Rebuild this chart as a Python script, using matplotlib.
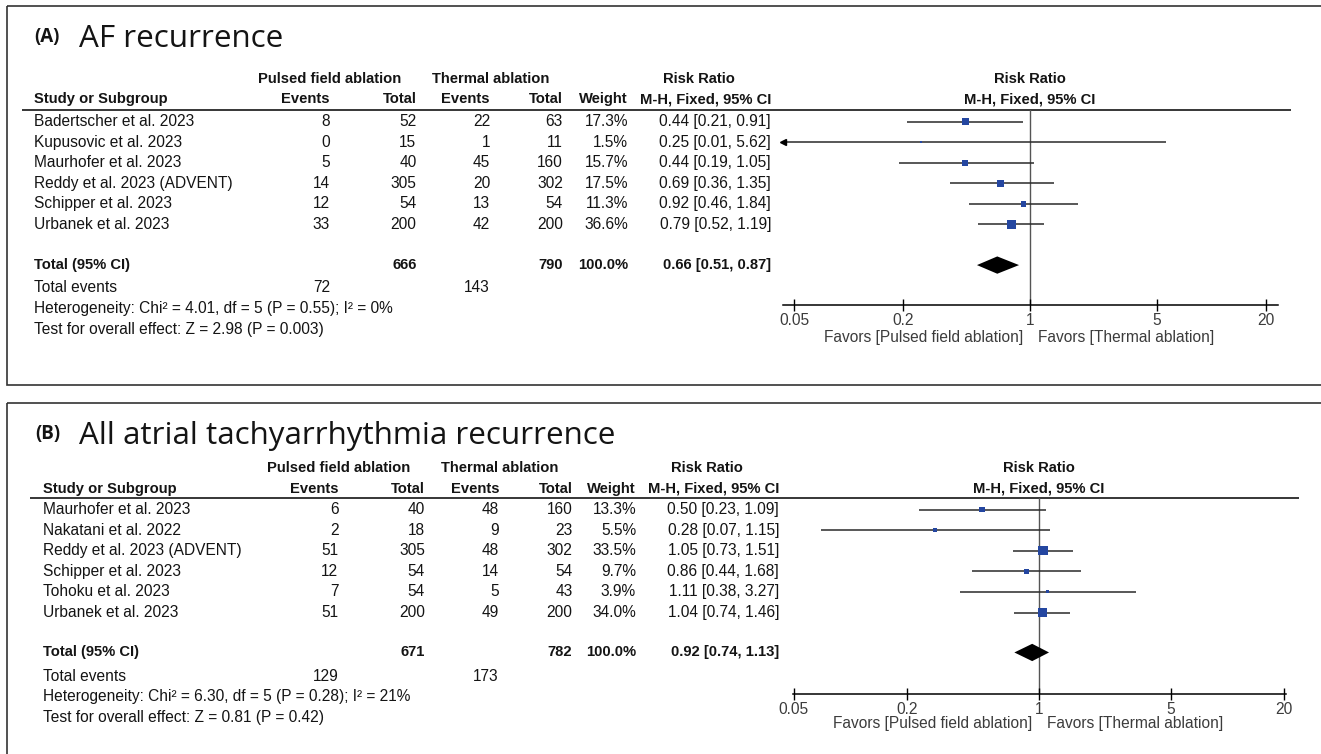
import numpy as np
import matplotlib
matplotlib.use("Agg")
import matplotlib.pyplot as plt
from matplotlib.patches import Rectangle
from matplotlib.ticker import NullLocator

# ---- data: (A) AF recurrence ----
studies_a = ["Badertscher et al. 2023", "Kupusovic et al. 2023", "Maurhofer et al. 2023",
             "Reddy et al. 2023 (ADVENT)", "Schipper et al. 2023", "Urbanek et al. 2023"]
pfa_events_a = [8, 0, 5, 14, 12, 33]
pfa_total_a = [52, 15, 40, 305, 54, 200]
th_events_a = [22, 1, 45, 20, 13, 42]
th_total_a = [63, 11, 160, 302, 54, 200]
weight_a = [17.3, 1.5, 15.7, 17.5, 11.3, 36.6]
rr_a = [0.44, 0.25, 0.44, 0.69, 0.92, 0.79]
ci_lo_a = [0.21, 0.01, 0.19, 0.36, 0.46, 0.52]
ci_hi_a = [0.91, 5.62, 1.05, 1.35, 1.84, 1.19]
total_a = [666, 790]
total_events_a = [72, 143]
pooled_a = [0.66, 0.51, 0.87]
het_a = "Heterogeneity: Chi\u00b2 = 4.01, df = 5 (P = 0.55); I\u00b2 = 0%"
test_a = "Test for overall effect: Z = 2.98 (P = 0.003)"

# ---- data: (B) All atrial tachyarrhythmia recurrence ----
studies_b = ["Maurhofer et al. 2023", "Nakatani et al. 2022", "Reddy et al. 2023 (ADVENT)",
             "Schipper et al. 2023", "Tohoku et al. 2023", "Urbanek et al. 2023"]
pfa_events_b = [6, 2, 51, 12, 7, 51]
pfa_total_b = [40, 18, 305, 54, 54, 200]
th_events_b = [48, 9, 48, 14, 5, 49]
th_total_b = [160, 23, 302, 54, 43, 200]
weight_b = [13.3, 5.5, 33.5, 9.7, 3.9, 34.0]
rr_b = [0.50, 0.28, 1.05, 0.86, 1.11, 1.04]
ci_lo_b = [0.23, 0.07, 0.73, 0.44, 0.38, 0.74]
ci_hi_b = [1.09, 1.15, 1.51, 1.68, 3.27, 1.46]
total_b = [671, 782]
total_events_b = [129, 173]
pooled_b = [0.92, 0.74, 1.13]
het_b = "Heterogeneity: Chi\u00b2 = 6.30, df = 5 (P = 0.28); I\u00b2 = 21%"
test_b = "Test for overall effect: Z = 0.81 (P = 0.42)"

ticks = [0.05, 0.2, 1, 5, 20]
tick_labels = ["0.05", "0.2", "1", "5", "20"]

W, H = 1321, 754
TXT = "#141414"
GREY = "#3c3c3c"
BLUE = "#2446a0"
TFONT = "Liberation Sans"
HFONT = "Open Sans"
FS = 11.2
FSB = 10.6

fig = plt.figure(figsize=(W / 100, H / 100), dpi=100)


def px_axes(x0, y0, x1, y1):
    # axes placed with pixel coords measured from the top-left corner
    return fig.add_axes([x0 / W, 1 - y1 / H, (x1 - x0) / W, (y1 - y0) / H])


# panel frames
bg = px_axes(0, 0, W, H)
bg.set_xlim(0, W)
bg.set_ylim(H, 0)
bg.axis("off")
bg.add_patch(Rectangle((7, 6), W, 379, fill=False, ec="#333333", lw=1.2))
bg.add_patch(Rectangle((7, 402.7), W, 400, fill=False, ec="#333333", lw=1.2))


def draw_panel(letter, title, studies, pe, pt, te, tt, weight, rr, lo, hi,
               tot, tot_ev, pooled, het, test, lay):
    r0, rs = lay["r0"], 20.6
    top, bottom = lay["top"], lay["bottom"]
    c = lay["cols"]
    rows = np.arange(len(studies))
    kw = dict(family=TFONT, fontsize=FS, color=TXT, va="center")
    bkw = dict(kw, fontweight="bold", fontsize=FSB)

    tab = px_axes(0, top, W, bottom)
    tab.set_xlim(0, W)
    tab.set_ylim((bottom - r0) / rs, (top - r0) / rs)
    tab.axis("off")

    # title
    tab.text(c["letter"], lay["letter_y"], letter, family=HFONT, fontsize=13.5,
             fontweight="bold", color=TXT, va="baseline")
    tab.text(c["title"], lay["title_y"], title, family=HFONT, fontsize=22.6,
             color=TXT, va="baseline")

    # headers
    h1, h2 = lay["h1"], lay["h2"]
    tab.text(c["g1"], h1, "Pulsed field ablation", ha="center", **bkw)
    tab.text(c["g2"], h1, "Thermal ablation", ha="center", **bkw)
    tab.text(c["rrh"], h1, "Risk Ratio", ha="center", **bkw)
    tab.text(c["name"], h2, "Study or Subgroup", ha="left", **bkw)
    tab.text(c["ev"], h2, "Events", ha="right", **bkw)
    tab.text(c["tot"], h2, "Total", ha="right", **bkw)
    tab.text(c["tev"], h2, "Events", ha="right", **bkw)
    tab.text(c["ttot"], h2, "Total", ha="right", **bkw)
    tab.text(c["w"], h2, "Weight", ha="right", **bkw)
    tab.text(c["rr"], h2, "M-H, Fixed, 95% CI", ha="right", **bkw)
    tab.hlines(lay["line"], lay["line_x"][0], lay["line_x"][1], color="k", lw=1.1)

    # study rows
    for i in rows:
        tab.text(c["name"], i, studies[i], ha="left", **kw)
        tab.text(c["ev"], i, str(pe[i]), ha="right", **kw)
        tab.text(c["tot"], i, str(pt[i]), ha="right", **kw)
        tab.text(c["tev"], i, str(te[i]), ha="right", **kw)
        tab.text(c["ttot"], i, str(tt[i]), ha="right", **kw)
        tab.text(c["w"], i, f"{weight[i]:.1f}%", ha="right", **kw)
        tab.text(c["rr"], i, f"{rr[i]:.2f} [{lo[i]:.2f}, {hi[i]:.2f}]", ha="right", **kw)

    T = lay["total"]
    tab.text(c["name"], T, "Total (95% CI)", ha="left", **bkw)
    tab.text(c["tot"], T, str(tot[0]), ha="right", **bkw)
    tab.text(c["ttot"], T, str(tot[1]), ha="right", **bkw)
    tab.text(c["w"], T, "100.0%", ha="right", **bkw)
    tab.text(c["rr"], T, f"{pooled[0]:.2f} [{pooled[1]:.2f}, {pooled[2]:.2f}]", ha="right", **bkw)
    tab.text(c["name"], lay["ev_row"], "Total events", ha="left", **kw)
    tab.text(c["ev"], lay["ev_row"], str(tot_ev[0]), ha="right", **kw)
    tab.text(c["tev"], lay["ev_row"], str(tot_ev[1]), ha="right", **kw)
    tab.text(c["name"], lay["het_row"], het, ha="left", **kw)
    tab.text(c["name"], lay["test_row"], test, ha="left", **kw)

    # forest plot
    line_px = r0 + rs * lay["line"]
    axis_px = r0 + rs * lay["axis"]
    fx = px_axes(lay["ax_x"][0], line_px, lay["ax_x"][1], axis_px)
    fx.set_xscale("log")
    fx.set_xlim(lay["lim"])
    fx.set_ylim(lay["axis"], lay["line"])
    fx.patch.set_alpha(0)
    for s in ["top", "left", "right"]:
        fx.spines[s].set_visible(False)
    fx.spines["bottom"].set_linewidth(1.1)
    fx.set_yticks([])
    fx.set_xticks(ticks)
    fx.set_xticklabels(tick_labels, family=TFONT, fontsize=FS, color=GREY)
    fx.xaxis.set_minor_locator(NullLocator())
    fx.tick_params(axis="x", direction="inout", length=9, width=1, pad=1.0)

    fx.axvline(1, color="#555555", lw=1.0, zorder=1)
    fx.hlines(rows, lo, hi, color="#2a2a2a", lw=1.1, zorder=2)
    xmin = fx.get_xlim()[0]
    for i in rows:
        if lo[i] < xmin:
            fx.plot(xmin, i, marker="<", ms=5, color="k", clip_on=False, zorder=3)
    sizes = (1.6 * np.sqrt(weight) * 0.72) ** 2
    fx.scatter(rr, rows, s=sizes, marker="s", color=BLUE, linewidths=0, zorder=4)
    fx.fill([pooled[1], pooled[0], pooled[2], pooled[0]],
            [T, T - 0.42, T, T + 0.42], color="k", zorder=4, lw=0)

    akw = dict(xycoords="data", textcoords="offset points", annotation_clip=False,
               family=TFONT, va="center")
    fx.annotate("Risk Ratio", xy=(1, h1), xytext=(0, 0), ha="center",
                fontweight="bold", fontsize=FSB, color=TXT, **akw)
    fx.annotate("M-H, Fixed, 95% CI", xy=(1, h2), xytext=(0, 0), ha="center",
                fontweight="bold", fontsize=FSB, color=TXT, **akw)
    fx.annotate("Favors [Pulsed field ablation]", xy=(1, lay["fav"]), xytext=(-5, 0),
                ha="right", fontsize=FS, color=GREY, **akw)
    fx.annotate("Favors [Thermal ablation]", xy=(1, lay["fav"]), xytext=(5.5, 0),
                ha="left", fontsize=FS, color=GREY, **akw)


lay_a = dict(top=6, bottom=385, r0=121.5,
             cols=dict(letter=34, title=79, name=34, ev=330, tot=416.5, tev=490, ttot=563,
                       w=628, rr=771, g1=330, g2=490.5, rrh=699),
             letter_y=-3.88, title_y=-3.63, h1=-2.04, h2=-1.07, line=-0.56,
             line_x=(22, 1291), total=6.97, ev_row=8.05, het_row=9.1, test_row=10.1,
             axis=8.93, fav=10.5, ax_x=(783.3, 1277.5), lim=(0.04365, 23.14))
lay_b = dict(top=402.7, bottom=754, r0=509.5,
             cols=dict(letter=35, title=79, name=43, ev=338.5, tot=425, tev=499, ttot=572.5,
                       w=636, rr=779, g1=338.5, g2=500, rrh=707),
             letter_y=-3.42, title_y=-3.18, h1=-2.03, h2=-1.01, line=-0.54,
             line_x=(30, 1299), total=6.94, ev_row=8.12, het_row=9.1, test_row=10.1,
             axis=8.97, fav=10.41, ax_x=(792.7, 1286), lim=(0.04935, 20.43))

draw_panel("(A)", "AF recurrence", studies_a, pfa_events_a, pfa_total_a, th_events_a,
           th_total_a, weight_a, rr_a, ci_lo_a, ci_hi_a, total_a, total_events_a,
           pooled_a, het_a, test_a, lay_a)
draw_panel("(B)", "All atrial tachyarrhythmia recurrence", studies_b, pfa_events_b,
           pfa_total_b, th_events_b, th_total_b, weight_b, rr_b, ci_lo_b, ci_hi_b,
           total_b, total_events_b, pooled_b, het_b, test_b, lay_b)

fig.savefig("out.png", dpi=100)
